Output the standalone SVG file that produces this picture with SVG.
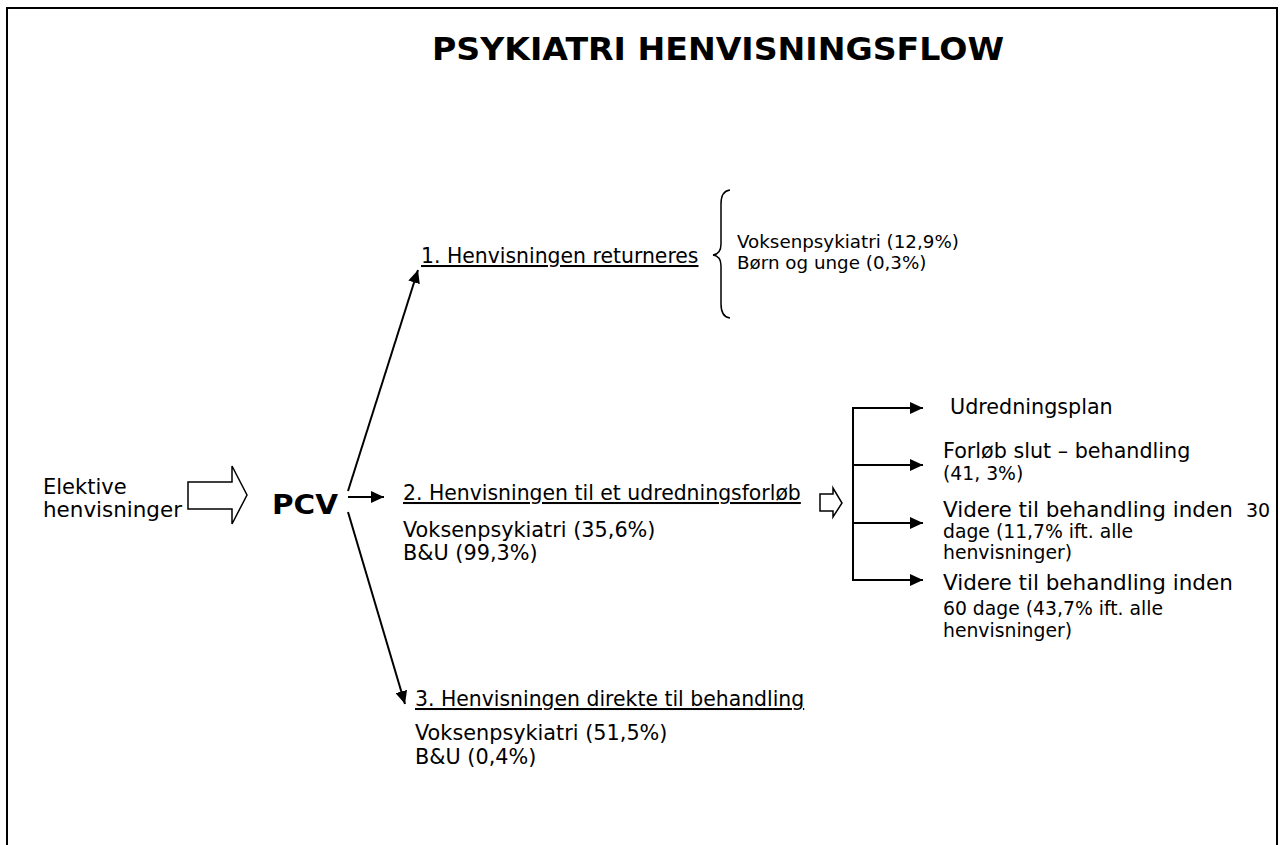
<svg xmlns="http://www.w3.org/2000/svg" width="1280" height="845" viewBox="0 0 1280 845">
<style>
text{font-family:"DejaVu Sans",Verdana,sans-serif;fill:#000}
.t20{font-size:20.4px}
.t21{font-size:20.8px}
.t18{font-size:18.8px}
.t183{font-size:18.3px}
.u{text-decoration:underline}
.ln{stroke:#000;stroke-width:2;fill:none}
.hollow{fill:#fff;stroke:#000;stroke-width:1.5;stroke-linejoin:miter}
</style>
<defs>
<marker id="ah" markerUnits="userSpaceOnUse" markerWidth="14" markerHeight="12" refX="13" refY="6" orient="auto">
<path d="M0,0 L13,6 L0,12 Z" fill="#000"/>
</marker>
</defs>
<rect x="0" y="0" width="1280" height="845" fill="#fff"/>
<rect x="7" y="8" width="1270" height="900" fill="none" stroke="#000" stroke-width="2"/>
<g id="title"><text x="432" y="60" font-size="32" font-weight="bold" textLength="572" lengthAdjust="spacingAndGlyphs">PSYKIATRI HENVISNINGSFLOW</text></g>
<g id="elektive"><text x="43" y="494" font-size="21">Elektive</text><text x="43" y="517" font-size="21" textLength="139" lengthAdjust="spacingAndGlyphs">henvisninger</text></g>
<g id="bigarrow"><path class="hollow" d="M188,482 L232,482 L232,466 L247,495 L232,524 L232,509 L188,509 Z"/></g>
<g id="pcv"><text x="272" y="514" font-size="27" font-weight="bold" textLength="66" lengthAdjust="spacingAndGlyphs">PCV</text></g>
<g id="connectors">
<line class="ln" x1="348" y1="491" x2="418" y2="270" marker-end="url(#ah)"/>
<line class="ln" x1="348" y1="497" x2="384" y2="497" marker-end="url(#ah)"/>
<line class="ln" x1="348" y1="512" x2="405" y2="704" marker-end="url(#ah)"/>
<line class="ln" x1="853" y1="407" x2="853" y2="581"/>
<line class="ln" x1="852" y1="408" x2="923" y2="408" marker-end="url(#ah)"/>
<line class="ln" x1="852" y1="465" x2="923" y2="465" marker-end="url(#ah)"/>
<line class="ln" x1="852" y1="523" x2="923" y2="523" marker-end="url(#ah)"/>
<line class="ln" x1="852" y1="580" x2="923" y2="580" marker-end="url(#ah)"/>
</g>
<g id="option1">
<text class="t20 u" x="421" y="263">1. Henvisningen returneres</text>
<path d="M730,190 Q721,191 721,204 L721,244 Q721,254 713,255 Q721,256 721,266 L721,304 Q721,317 730,318" fill="none" stroke="#000" stroke-width="1.5"/>
<text class="t183" x="737" y="248">Voksenpsykiatri (12,9%)</text>
<text class="t183" x="737" y="269">Børn og unge (0,3%)</text>
</g>
<g id="option2">
<text class="t20 u" x="403" y="500">2. Henvisningen til et udredningsforløb</text>
<text class="t21" x="403" y="537">Voksenpsykiatri (35,6%)</text>
<text class="t21" x="403" y="560">B&amp;U (99,3%)</text>
</g>
<g id="smallarrow"><path class="hollow" d="M820,494 L833,494 L833,488 L842,503 L833,517 L833,511 L820,511 Z"/></g>
<g id="outcomes">
<text font-size="20.7" x="950" y="414">Udredningsplan</text>
<text font-size="20.7" x="943" y="458">Forløb slut – behandling</text>
<text class="t18" x="943" y="480">(41, 3%)</text>
<text font-size="21.5" x="943" y="517">Videre til behandling inden <tspan x="1246" font-size="19">30</tspan></text>
<text class="t18" x="943" y="538">dage (11,7% ift. alle</text>
<text class="t18" x="943" y="559">henvisninger)</text>
<text font-size="21.5" x="943" y="590">Videre til behandling inden</text>
<text class="t18" x="943" y="615">60 dage (43,7% ift. alle</text>
<text class="t18" x="943" y="637">henvisninger)</text>
</g>
<g id="option3">
<text class="t20 u" x="415" y="706">3. Henvisningen direkte til behandling</text>
<text class="t21" x="415" y="740">Voksenpsykiatri (51,5%)</text>
<text class="t21" x="415" y="764">B&amp;U (0,4%)</text>
</g>
</svg>
